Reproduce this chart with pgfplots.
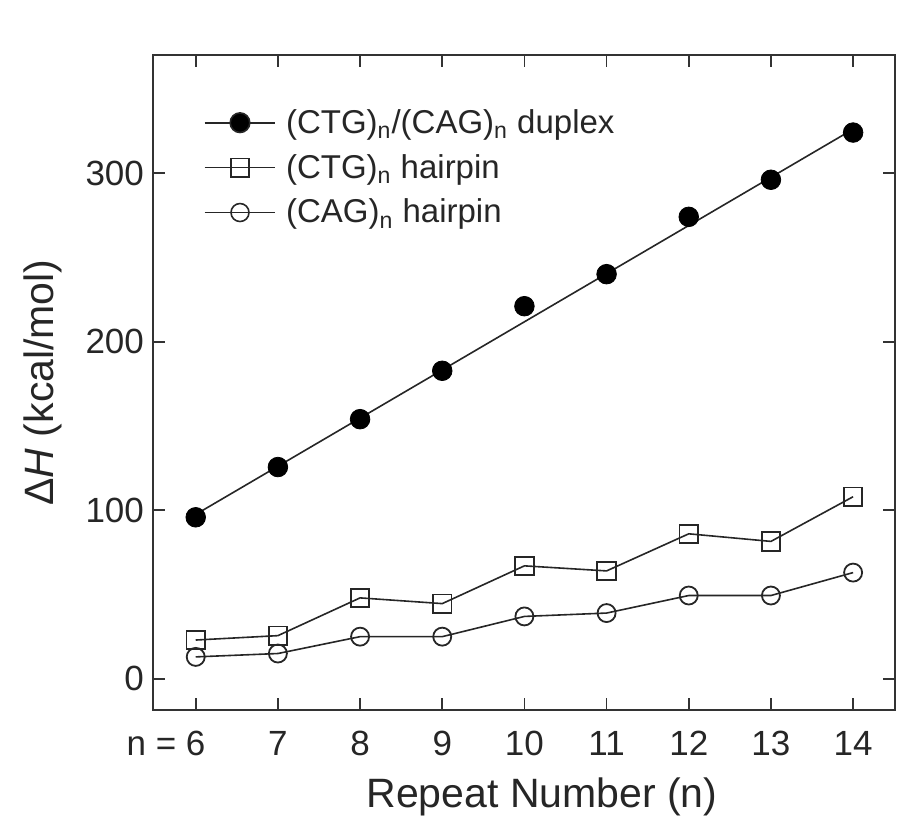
\documentclass[border=0pt]{standalone}
\usepackage{pgfplots}
\pgfplotsset{compat=1.18}
\usepackage{fontspec}
\setmainfont{Liberation Sans}
\begin{document}
\begin{tikzpicture}
\begin{axis}[
  scale only axis,
  width=371pt, height=327.5pt,
  xmin=5.48, xmax=14.51,
  ymin=-18.5, ymax=370,
  xtick={6,7,8,9,10,11,12,13,14},
  xticklabels={{\llap{n =\ }6},7,8,9,10,11,12,13,14},
  ytick={0,100,200,300},
  tick align=inside,
  major tick length=6pt,
  tick style={line width=0.9pt, black!80},
  axis line style={line width=1.2pt, black!80},
  every tick label/.append style={font=\fontsize{17.5}{19}\selectfont, text=black!85},
  xticklabel style={yshift=-7pt},
  yticklabel style={xshift=-1pt},
  xlabel={Repeat Number (n)},
  ylabel={Δ\textit{H} (kcal/mol)},
  label style={font=\fontsize{20.5}{22}\selectfont, text=black!85},
  xlabel style={yshift=-4pt, xshift=9pt},
  ylabel style={yshift=5pt},
  /pgf/number format/assume math mode=true,
  legend style={at={(0.06,0.93)}, anchor=north west, draw=none, fill=none,
    font=\fontsize{16.5}{18}\selectfont, row sep=5pt, text=black!85,
    nodes={inner xsep=5pt}},
  legend cell align=left,
  legend image code/.code={\draw[mark repeat=2,mark phase=2,#1] plot coordinates {(0cm,0cm) (0.62cm,0cm) (1.24cm,0cm)};},
]
% linear fit of duplex
\addplot[black!85, line width=0.8pt, forget plot] coordinates {(6,97.5) (14,326)};
\addplot[only marks, mark=*, mark size=4.9pt, black, forget plot] coordinates {
(6,95.8) (7,125.6) (8,154) (9,182.7) (10,221) (11,240) (12,274) (13,296) (14,324)};
\addplot[black!85, line width=0.8pt, mark=square, mark size=4.6pt, mark options={fill=none, line width=0.9pt}, forget plot] coordinates {
(6,23) (7,25.6) (8,48) (9,44.6) (10,67) (11,64) (12,86) (13,81.5) (14,108)};
\addplot[black!85, line width=0.8pt, mark=o, mark size=4.5pt, mark options={fill=none, line width=0.9pt}, forget plot] coordinates {
(6,13) (7,15) (8,25) (9,25) (10,37) (11,39) (12,49.4) (13,49.4) (14,63)};
\addlegendimage{black!85, line width=0.8pt, mark=*, mark size=4.9pt, mark options={fill=black}}
\addlegendentry{(CTG)\textsubscript{n}/(CAG)\textsubscript{n} duplex}
\addlegendimage{black!85, line width=0.8pt, mark=square, mark size=4.6pt, mark options={fill=none}}
\addlegendentry{(CTG)\textsubscript{n} hairpin}
\addlegendimage{black!85, line width=0.8pt, mark=o, mark size=4.5pt, mark options={fill=none}}
\addlegendentry{(CAG)\textsubscript{n} hairpin}
\end{axis}
\pgfresetboundingbox
\path ([shift={(-76.5pt,-55pt)}]current axis.south west) rectangle ([shift={(13.5pt,27.5pt)}]current axis.north east);
\end{tikzpicture}
\end{document}
